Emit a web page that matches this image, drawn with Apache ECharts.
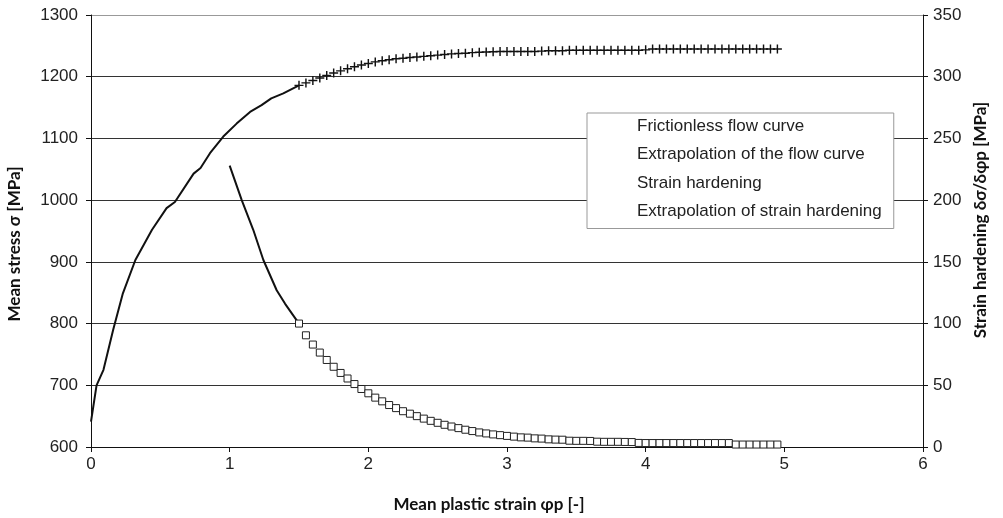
<!DOCTYPE html>
<html>
<head>
<meta charset="utf-8">
<script src="https://cdn.jsdelivr.net/npm/echarts@6/dist/echarts.min.js"></script>
<style>
  html, body { margin: 0; padding: 0; background: #fff; }
  #chart { width: 1003px; height: 518px; }
</style>
</head>
<body>
<div id="chart"></div>
<script>
// Measured flow curve (mean plastic strain vs mean stress, MPa)
const flowStrain = [0, 0.04, 0.09, 0.16, 0.23, 0.32, 0.44, 0.545, 0.605, 0.74, 0.79, 0.858, 0.954, 1.05, 1.147, 1.23, 1.30, 1.387, 1.5];
const flowStress = [641, 700, 725, 790, 849, 903, 952, 987, 997, 1043, 1052, 1076, 1103, 1124, 1143, 1154, 1165, 1173, 1186];

// Strain values used for both extrapolations
const extStrain = [
  1.50, 1.55, 1.60, 1.65, 1.70, 1.75, 1.80, 1.85, 1.90, 1.95,
  2.00, 2.05, 2.10, 2.15, 2.20, 2.25, 2.30, 2.35, 2.40, 2.45,
  2.50, 2.55, 2.60, 2.65, 2.70, 2.75, 2.80, 2.85, 2.90, 2.95,
  3.00, 3.05, 3.10, 3.15, 3.20, 3.25, 3.30, 3.35, 3.40, 3.45,
  3.50, 3.55, 3.60, 3.65, 3.70, 3.75, 3.80, 3.85, 3.90, 3.95,
  4.00, 4.05, 4.10, 4.15, 4.20, 4.25, 4.30, 4.35, 4.40, 4.45,
  4.50, 4.55, 4.60, 4.65, 4.70, 4.75, 4.80, 4.85, 4.90, 4.95
];

// Extrapolated flow curve (MPa)
const extStress = [
  1186, 1190, 1194, 1198, 1202, 1206, 1209.5, 1213, 1216, 1219,
  1221.5, 1224, 1226, 1227.5, 1229, 1230, 1231, 1232, 1233, 1234,
  1235, 1236, 1237, 1237.5, 1238, 1239, 1239.5, 1240, 1240.5, 1241,
  1241, 1241, 1241, 1241, 1241, 1241.5, 1242, 1242, 1242, 1243,
  1243, 1243, 1243, 1243, 1243, 1243, 1243, 1243, 1243, 1243,
  1243.5, 1245, 1245, 1245, 1245, 1245, 1245, 1245, 1245, 1245,
  1245, 1245, 1245, 1245, 1245, 1245, 1245, 1245, 1245, 1245
];

// Strain hardening from the measured curve (MPa)
const hardStrain = [1.0, 1.087, 1.17, 1.243, 1.339, 1.40, 1.5];
const hardValue = [228, 200, 176, 151.5, 127, 116, 100];

// Extrapolated strain hardening (MPa)
const extHardening = [
  100, 90.5, 83, 76.5, 70.5, 65, 60, 55.5, 51, 47,
  43.5, 40, 37, 34, 31.5, 29, 27, 25, 23, 21.2,
  19.6, 18, 16.6, 15.3, 14, 12.9, 11.8, 11, 10.2, 9.6,
  9, 8.4, 7.8, 7.6, 7, 6.8, 6.2, 6, 5.9, 5.1,
  5, 5, 4.9, 4.3, 4.2, 4.2, 4.2, 4.1, 4.0, 3.3,
  3.2, 3.2, 3.2, 3.2, 3.2, 3.2, 3.2, 3.2, 3.2, 3.2,
  3.2, 3.2, 3.2, 2.0, 2.0, 2.0, 2.0, 2.0, 2.0, 2.0
];

const seriesNames = [
  'Frictionless flow curve',
  'Extrapolation of the flow curve',
  'Strain hardening',
  'Extrapolation of strain hardening'
];

const zip = (xs, ys) => xs.map((x, i) => [x, ys[i]]);

const PLUS = 'path://M4.2,0H5.8V4.2H10V5.8H5.8V10H4.2V5.8H0V4.2H4.2Z';
const tickFont = { fontFamily: 'Liberation Sans, Arial, sans-serif', fontSize: 17, color: '#222' };
const titleFont = { fontFamily: 'Lato, sans-serif', fontWeight: 'bold', fontSize: 17, color: '#111' };

const chart = echarts.init(document.getElementById('chart'), null, { renderer: 'canvas' });
chart.setOption({
  animation: false,
  backgroundColor: '#fff',
  grid: { left: 91, right: 80, top: 15, bottom: 71, containLabel: false, outerBoundsMode: 'none' },
  legend: {
    orient: 'vertical',
    left: 587,
    top: 113,
    padding: [3, 12, 7, 8],
    itemWidth: 36,
    itemHeight: 14,
    itemGap: 8.5,
    icon: 'rect',
    itemStyle: { opacity: 0 },
    lineStyle: { opacity: 0 },
    backgroundColor: '#fff',
    borderColor: '#999',
    borderWidth: 1,
    textStyle: { fontFamily: 'Liberation Sans, Arial, sans-serif', fontSize: 17, color: '#222', lineHeight: 20 },
    data: seriesNames
  },
  xAxis: {
    type: 'value',
    min: 0, max: 6, interval: 1,
    name: 'Mean plastic strain φp [-]',
    nameLocation: 'middle',
    nameGap: 49,
    nameTextStyle: Object.assign({ padding: [0, 36, 0, 0] }, titleFont),
    axisLine: { show: true, lineStyle: { color: '#111', width: 1 } },
    axisTick: { show: true, inside: false, length: 5, lineStyle: { color: '#111' } },
    axisLabel: Object.assign({ margin: 9 }, tickFont),
    splitLine: { show: false }
  },
  yAxis: [
    {
      type: 'value',
      min: 600, max: 1300, interval: 100,
      name: 'Mean stress σ [MPa]',
      nameLocation: 'middle',
      nameRotate: 90,
      nameGap: 68,
      nameTextStyle: Object.assign({ padding: [0, 26, 0, 0] }, titleFont),
      axisLine: { show: true, lineStyle: { color: '#111', width: 1 } },
      axisTick: { show: true, inside: false, length: 5, lineStyle: { color: '#111' } },
      axisLabel: Object.assign({ margin: 13, formatter: v => String(v) }, tickFont),
      splitLine: {
        show: true,
        lineStyle: { color: ['#333', '#333', '#333', '#333', '#333', '#333', '#333', '#999'], width: 1 }
      }
    },
    {
      type: 'value',
      position: 'right',
      min: 0, max: 350, interval: 50,
      name: 'Strain hardening δσ/δφp [MPa]',
      nameLocation: 'middle',
      nameRotate: 90,
      nameGap: 49,
      nameTextStyle: Object.assign({ padding: [0, 0, 0, 22] }, titleFont),
      axisLine: { show: true, lineStyle: { color: '#111', width: 1 } },
      axisTick: { show: true, inside: false, length: 5, lineStyle: { color: '#111' } },
      axisLabel: Object.assign({ margin: 10, formatter: v => String(v) }, tickFont),
      splitLine: { show: false }
    }
  ],
  series: [
    {
      name: seriesNames[0],
      type: 'line',
      yAxisIndex: 0,
      data: zip(flowStrain, flowStress),
      showSymbol: false,
      lineStyle: { color: '#111', width: 2 },
      itemStyle: { color: '#111' },
      z: 3
    },
    {
      name: seriesNames[1],
      type: 'scatter',
      yAxisIndex: 0,
      data: zip(extStrain, extStress),
      symbol: PLUS,
      symbolSize: 9,
      itemStyle: { color: '#111', opacity: 1 },
      z: 4
    },
    {
      name: seriesNames[2],
      type: 'line',
      yAxisIndex: 1,
      data: zip(hardStrain, hardValue),
      showSymbol: false,
      lineStyle: { color: '#111', width: 2 },
      itemStyle: { color: '#111' },
      z: 3
    },
    {
      name: seriesNames[3],
      type: 'scatter',
      yAxisIndex: 1,
      data: zip(extStrain, extHardening),
      symbol: 'rect',
      symbolSize: 7,
      itemStyle: { color: '#fff', borderColor: '#222', borderWidth: 1, opacity: 1 },
      z: 4
    }
  ]
});
</script>
</body>
</html>
